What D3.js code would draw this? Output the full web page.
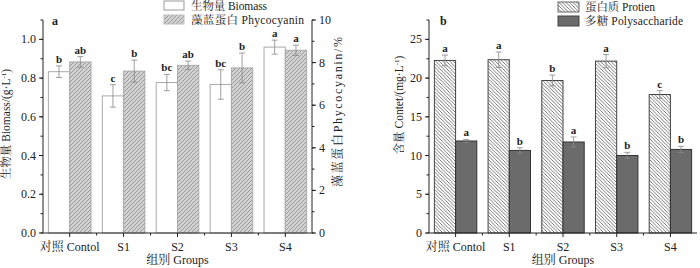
<!DOCTYPE html>
<html><head><meta charset="utf-8">
<script src="https://cdn.jsdelivr.net/npm/d3@7"></script>
<style>
body{margin:0;background:#fff;}
svg text{font-family:"Liberation Serif","Noto Serif CJK SC","Noto Sans CJK SC",serif;fill:#222;}
</style></head><body>
<svg id="c" width="700" height="268"></svg>
<script>
const groups = ["对照 Contol","S1","S2","S3","S4"];
const biomass = [0.833,0.708,0.777,0.767,0.960];
const biomassErr = [0.03,0.058,0.042,0.076,0.036];
const biomassSig = ["b","c","bc","bc","a"];
const phyco = [8.03,7.6,7.87,7.75,8.58];
const phycoErr = [0.25,0.52,0.2,0.7,0.24];
const phycoSig = ["ab","b","ab","b","a"];
const protein = [22.28,22.37,19.69,22.19,17.88];
const proteinErr = [0.69,1.0,0.7,0.85,0.5];
const proteinSig = ["a","a","b","a","c"];
const poly = [11.88,10.66,11.75,10.01,10.79];
const polyErr = [0.2,0.35,0.65,0.4,0.4];
const polySig = ["a","b","a","b","b"];
const leftTicks = [0,0.2,0.4,0.6,0.8,1.0];
const rightTicks = [0,2,4,6,8,10];
const bTicks = [0,5,10,15,20,25];

const svg = d3.select("#c");
const defs = svg.append("defs");
function hatch(id, bg, stroke, dir, sp){
  const p = defs.append("pattern").attr("id",id).attr("patternUnits","userSpaceOnUse")
    .attr("width",sp).attr("height",sp);
  p.append("rect").attr("width",sp).attr("height",sp).attr("fill",bg);
  if(dir>0){
    p.append("path").attr("d",`M0,${sp} L${sp},0 M${-sp/2},${sp/2} L${sp/2},${-sp/2} M${sp/2},${sp*1.5} L${sp*1.5},${sp/2}`)
      .attr("stroke",stroke).attr("stroke-width",0.8);
  } else {
    p.append("path").attr("d",`M0,0 L${sp},${sp} M${-sp/2},${sp/2} L${sp/2},${sp*1.5} M${sp/2},${-sp/2} L${sp*1.5},${sp/2}`)
      .attr("stroke",stroke).attr("stroke-width",0.8);
  }
}
hatch("hA","#d2d2d2","#8a8a8a",1,4);
hatch("hB","#ffffff","#555",-1,3.5);

const yTop=20, yBot=233;
function drawPanel(cfg){
  const g = svg.append("g");
  const x0 = d3.scaleBand().domain(groups).range(cfg.xr).paddingInner(0.21).paddingOuter(0.1);
  const x1 = d3.scaleBand().domain([0,1]).range([0,x0.bandwidth()]);
  cfg.series.forEach((s,si)=>{
    const y = s.scale;
    groups.forEach((gname,i)=>{
      const bx = x0(gname)+x1(si), bw = x1.bandwidth();
      g.append("rect").attr("x",bx).attr("y",y(s.vals[i])).attr("width",bw)
        .attr("height",y(0)-y(s.vals[i])).attr("fill",s.fill).attr("stroke",s.stroke).attr("stroke-width",1);
      const cx = bx+bw/2, e1=y(s.vals[i]+s.err[i]), e2=y(s.vals[i]-s.err[i]);
      g.append("line").attr("x1",cx).attr("x2",cx).attr("y1",e1).attr("y2",e2).attr("stroke","#888").attr("stroke-width",0.8);
      [e1,e2].forEach(ey=>g.append("line").attr("x1",cx-3).attr("x2",cx+3).attr("y1",ey).attr("y2",ey).attr("stroke","#888").attr("stroke-width",0.8));
      g.append("text").attr("x",cx).attr("y",e1-3).attr("text-anchor","middle").attr("font-size",11).attr("font-weight","bold").text(s.sig[i]);
    });
  });
  const xa = g.append("g").attr("transform",`translate(0,${yBot})`);
  xa.append("line").attr("x1",cfg.xr[0]).attr("x2",cfg.xr[1]).attr("y1",0).attr("y2",0).attr("stroke","#222");
  groups.forEach((gname,i)=>{
    const cx = x0(gname)+x0.bandwidth()/2;
    xa.append("line").attr("x1",cx).attr("x2",cx).attr("y1",0).attr("y2",4).attr("stroke","#222");
    xa.append("text").attr("x",cx).attr("y",18).attr("text-anchor","middle").attr("font-size",12).text(gname);
    if(i<groups.length-1){
      const mx = cx + x0.step()/2;
      xa.append("line").attr("x1",mx).attr("x2",mx).attr("y1",0).attr("y2",2.5).attr("stroke","#222");
    }
  });
  g.append("text").attr("x",(cfg.xr[0]+cfg.xr[1])/2).attr("y",264).attr("text-anchor","middle").attr("font-size",12).text("组别 Groups");
  return g;
}
function yAxis(g, scale, xpos, ticks, minorStep, side, fmt){
  const a = g.append("g").attr("transform",`translate(${xpos},0)`);
  a.append("line").attr("x1",0).attr("x2",0).attr("y1",yTop).attr("y2",yBot).attr("stroke","#222");
  const dir = side==="left"?-1:1;
  const d1 = scale.domain()[1];
  for(let v=0; v<=d1+1e-9; v+=minorStep){
    a.append("line").attr("x1",0).attr("x2",dir*2.5).attr("y1",scale(v)).attr("y2",scale(v)).attr("stroke","#222");
  }
  ticks.forEach(v=>{
    a.append("line").attr("x1",0).attr("x2",dir*4).attr("y1",scale(v)).attr("y2",scale(v)).attr("stroke","#222");
    a.append("text").attr("x",dir*7).attr("y",scale(v)+4).attr("text-anchor",side==="left"?"end":"start").attr("font-size",12).text(fmt(v));
  });
}
function fitText(g, x, y, len, txt){
  return g.append("text").attr("x",x).attr("y",y).attr("font-size",11.5)
    .attr("textLength",len).attr("lengthAdjust","spacing").text(txt);
}

const yL = d3.scaleLinear().domain([0,1.1]).range([yBot,yTop]);
const yR = d3.scaleLinear().domain([0,10]).range([yBot,yTop]);
const gA = drawPanel({xr:[43,312], series:[
  {vals:biomass, err:biomassErr, sig:biomassSig, scale:yL, fill:"#fff", stroke:"#aaa"},
  {vals:phyco, err:phycoErr, sig:phycoSig, scale:yR, fill:"url(#hA)", stroke:"#aaa"}]});
yAxis(gA, yL, 43, leftTicks, 0.1, "left", d3.format(".1f"));
yAxis(gA, yR, 312, rightTicks, 1, "right", d3.format("d"));
gA.append("text").attr("transform","translate(10,124) rotate(-90)").attr("text-anchor","middle").attr("font-size",11.5)
  .html('生物量 Biomass/(g·L<tspan dy="-4" font-size="7">-1</tspan><tspan dy="4">)</tspan>');
gA.append("text").attr("transform","translate(342,187) rotate(-90)").attr("font-size",12)
  .attr("textLength",150).attr("lengthAdjust","spacing").text("藻蓝蛋白Phycocyanin/%");
gA.append("text").attr("x",52).attr("y",25).attr("font-size",12).attr("font-weight","bold").text("a");
gA.append("rect").attr("x",164).attr("y",1).attr("width",20).attr("height",9).attr("fill","#fff").attr("stroke","#999");
fitText(gA,191,10,76,"生物量 Biomass");
gA.append("rect").attr("x",164).attr("y",15).attr("width",20).attr("height",9).attr("fill","url(#hA)").attr("stroke","#bbb");
fitText(gA,191,24,113,"藻蓝蛋白 Phycocyanin");

const yB = d3.scaleLinear().domain([0,27.5]).range([yBot,yTop]);
const gB = drawPanel({xr:[429,697], series:[
  {vals:protein, err:proteinErr, sig:proteinSig, scale:yB, fill:"url(#hB)", stroke:"#444"},
  {vals:poly, err:polyErr, sig:polySig, scale:yB, fill:"#6b6b6b", stroke:"#333"}]});
yAxis(gB, yB, 429, bTicks, 2.5, "left", d3.format("d"));
gB.append("text").attr("transform","translate(403,105) rotate(-90)").attr("text-anchor","middle").attr("font-size",11.5)
  .html('含量 Contet/(mg·L<tspan dy="-4" font-size="7">-1</tspan><tspan dy="4">)</tspan>');
gB.append("text").attr("x",440).attr("y",25).attr("font-size",12).attr("font-weight","bold").text("b");
gB.append("rect").attr("x",558).attr("y",2).attr("width",21).attr("height",10).attr("fill","url(#hB)").attr("stroke","#666");
fitText(gB,585,11,70,"蛋白质 Protien");
gB.append("rect").attr("x",558).attr("y",16).attr("width",21).attr("height",10).attr("fill","#6b6b6b").attr("stroke","#444");
fitText(gB,585,25,98,"多糖 Polysaccharide");
</script></body></html>
